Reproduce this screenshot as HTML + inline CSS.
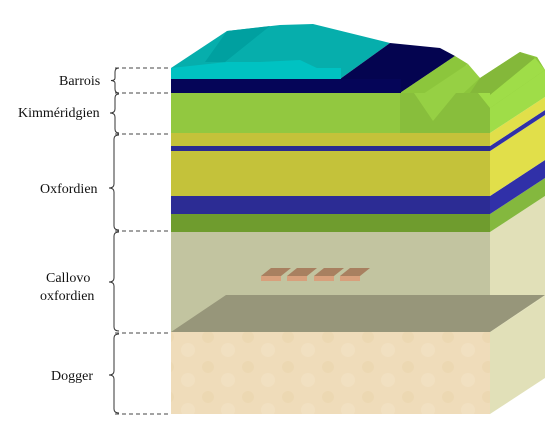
<!DOCTYPE html>
<html><head><meta charset="utf-8"><style>
html,body{margin:0;padding:0;background:#fff;width:553px;height:424px;overflow:hidden}
text{font-family:"Liberation Serif",serif;font-size:14px;fill:#111}
</style></head><body>
<svg width="553" height="424" viewBox="0 0 553 424">
<defs>
<pattern id="sand" width="40" height="30" patternUnits="userSpaceOnUse">
<rect width="40" height="30" fill="#efdcba"/>
<circle cx="8" cy="7" r="6" fill="#ead3aa" opacity="0.5"/>
<circle cx="28" cy="20" r="7" fill="#f3e4c8" opacity="0.5"/>
</pattern>
</defs>
<!-- right side face -->
<g>
<polygon points="490,332 545,296 545,378 490,414" fill="#e1e0b8"/>
<polygon points="490,232 545,196 545,296 490,332" fill="#e1e0b8"/>
<polygon points="490,214 545,178 545,196 490,232" fill="#84b83e"/>
<polygon points="490,196 545,160 545,178 490,214" fill="#3030a8"/>
<polygon points="490,151 545,115 545,160 490,196" fill="#e1df4a"/>
<polygon points="490,146 545,110 545,115 490,151" fill="#3030a8"/>
<polygon points="490,133 545,97 545,110 490,146" fill="#e1df4a"/>
<polygon points="490,108 520,57 537,57 545,70 545,97 490,133" fill="#9fdd48"/>
</g>
<!-- top surface -->
<g>
<polygon points="400,93 455,56 480,78 520,52 537,57 545,70 490,108 490,93" fill="#8cc63c"/>
<polygon points="171,68 227,31 280,25 313,24 390,43 340,79 171,79" fill="#06aeac"/>
<polygon points="171,68 227,62 260,62 300,60 340,79 171,79" fill="#00c2c2"/>
<polygon points="227,31 270,26 225,62 205,62" fill="#00a0a0"/>
<polygon points="390,43 440,48 455,56 400,93 335,93 340,79" fill="#040450"/>
<polygon points="455,56 468,64 420,96 400,93" fill="#8cc63c"/>
<polygon points="468,64 480,78 433,121 420,96" fill="#96d044"/>
<polygon points="480,78 520,52 535,58 490,95 470,93" fill="#84b83a"/>
<polygon points="470,93 490,95 535,58 545,70 490,108 482,95" fill="#9fdd48"/>
</g>
<!-- front face layers -->
<g>
<rect x="171" y="68" width="170" height="11" fill="#00c2c2"/>
<rect x="171" y="79" width="230" height="14" fill="#050558"/>
<rect x="171" y="93" width="319" height="40" fill="#92c840"/>
<polygon points="400,93 490,93 490,133 400,133" fill="#88be3c"/>
<polygon points="414,93 456,93 433,121" fill="#96d044"/>
<polygon points="478,93 490,93 490,108" fill="#9fdd48"/>
<rect x="171" y="133" width="319" height="13" fill="#c4c23a"/>
<rect x="171" y="146" width="319" height="5" fill="#2a2a90"/>
<rect x="171" y="151" width="319" height="45" fill="#c4c23a"/>
<rect x="171" y="196" width="319" height="18" fill="#2c2c94"/>
<rect x="171" y="214" width="319" height="18" fill="#6f9c2e"/>
<rect x="171" y="232" width="319" height="100" fill="#c2c4a0"/>
<polygon points="171,332 226,295 545,295 490,332" fill="#97967a"/>
<rect x="171" y="332" width="319" height="82" fill="url(#sand)"/>
</g>
<!-- lab tiles -->
<g>
<g><polygon points="261,276 271,268 291,268 281,276" fill="#a88060"/><rect x="261" y="276" width="20" height="5" fill="#d8a07c"/></g>
<g><polygon points="287,276 297,268 317,268 307,276" fill="#a88060"/><rect x="287" y="276" width="20" height="5" fill="#d8a07c"/></g>
<g><polygon points="314,276 324,268 344,268 334,276" fill="#a88060"/><rect x="314" y="276" width="20" height="5" fill="#d8a07c"/></g>
<g><polygon points="340,276 350,268 370,268 360,276" fill="#a88060"/><rect x="340" y="276" width="20" height="5" fill="#d8a07c"/></g>
</g>
<!-- dashed lines -->
<g stroke="#444" stroke-dasharray="4,3" stroke-width="1">
<line x1="115" y1="68" x2="171" y2="68"/>
<line x1="115" y1="93" x2="171" y2="93"/>
<line x1="115" y1="134" x2="171" y2="134"/>
<line x1="115" y1="231" x2="171" y2="231"/>
<line x1="115" y1="333" x2="171" y2="333"/>
<line x1="115" y1="414" x2="171" y2="414"/>
</g>
<!-- braces -->
<g fill="none" stroke="#333" stroke-width="1">
<path d="M119,68 Q115,68 115,72 L115,78 Q115,80.5 111,80.5 Q115,81 115,83 L115,89 Q115,93 119,93"/>
<path d="M119,94 Q115,94 115,98 L115,109 Q115,113 110,113 Q115,113 115,117 L115,129 Q115,133 119,133"/>
<path d="M119,135 Q114,135 114,139 L114,184 Q114,188 109,188 Q114,188 114,192 L114,226 Q114,230 119,230"/>
<path d="M119,232 Q114,232 114,236 L114,278 Q114,282 109,282 Q114,282 114,286 L114,327 Q114,331 119,331"/>
<path d="M119,334 Q114,334 114,338 L114,371 Q114,375 109,375 Q114,375 114,379 L114,409 Q114,413 119,413"/>
</g>
<!-- labels -->
<text x="59" y="85">Barrois</text>
<text x="18" y="117">Kimméridgien</text>
<text x="40" y="193">Oxfordien</text>
<text x="46" y="282">Callovo</text>
<text x="40" y="300">oxfordien</text>
<text x="51" y="380">Dogger</text>
</svg>
</body></html>
